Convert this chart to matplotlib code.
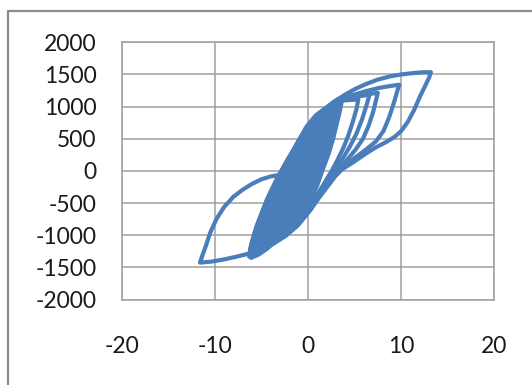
import matplotlib
matplotlib.use("Agg")
import matplotlib.pyplot as plt
from matplotlib.lines import Line2D

# densely overlapping small cycles, drawn as a filled band
core_disp = [-6.1, -5.3, -4.4, -3.6, -2.6, -1.6, -0.6, 0.3, 1.0, 1.6, 2.2, 2.7, 3.1, 3.4, 3.6, 3.4, 2.8,
             2.2, 1.2, 0.0, -1.0, -2.1, -3.3, -4.4, -5.5, -6.2, -6.3]
core_force = [-1350, -1300, -1210, -1110, -990, -850, -660, -450, -220, 30, 260, 500, 740, 920, 1060, 1130, 1080,
              1010, 870, 690, 470, 200, -110, -440, -850, -1200, -1330]

# largest cycle (+13 / -11.6)
big_disp = [-3.0, -2.2, -1.2, -0.2, 0.8, 1.8, 2.8, 3.8, 5.0, 6.2, 7.5, 8.8, 10.0, 11.2, 12.4, 13.2,
            13.0, 12.6, 12.0, 11.4, 10.7, 10.0, 9.3, 8.4, 7.2, 6.0, 4.8, 3.6, 2.6, 1.6, 0.6, -0.4,
            -1.4, -2.6, -3.8, -5.0, -6.2, -7.6, -9.0, -10.4, -11.6,
            -11.4, -11.0, -10.5, -9.8, -9.0, -8.0, -7.0, -6.0, -5.0, -4.0, -3.0]
big_force = [-60, 120, 420, 680, 860, 970, 1070, 1170, 1270, 1350, 1420, 1470, 1500, 1520, 1535, 1535,
             1450, 1330, 1150, 950, 760, 620, 530, 450, 360, 250, 130, 20, -120, -290, -480, -700,
             -880, -1020, -1130, -1210, -1280, -1330, -1375, -1410, -1425,
             -1340, -1180, -960, -740, -560, -400, -290, -200, -130, -85, -60]

# cycle peaking near +10
c10_disp = [3.0, 3.8, 4.8, 6.2, 7.6, 8.8, 9.8, 9.6, 9.2, 8.7, 8.1, 7.3, 6.2, 5.0, 3.9, 3.0, 2.0,
            0.9, -0.2, -1.2, -2.4, -3.6, -4.8, -6.0, -6.1, -5.6, -4.8, -4.0, -3.1, -2.2, -1.2,
            -0.2, 0.9, 2.0, 3.0]
c10_force = [1080, 1130, 1180, 1240, 1290, 1320, 1340, 1250, 1050, 830, 620, 460, 330, 200, 70, -70, -260,
             -470, -680, -860, -1010, -1120, -1210, -1290, -1150, -900, -600, -330, -60, 160, 400,
             620, 820, 950, 1080]

# cycle peaking near +7.5
c8_disp = [3.0, 3.8, 4.8, 6.0, 7.5, 7.3, 7.0, 6.5, 5.9, 5.1, 4.3, 3.4, 2.5, 1.4, 0.3, -1.0, -2.4, -4.0, -5.6, -6.0]
c8_force = [1080, 1110, 1150, 1185, 1215, 1100, 920, 700, 500, 330, 190, 40, -140, -360, -600, -830, -1000, -1140, -1260, -1300]

# cycle peaking near +6.6
c7_disp = [3.0, 4.0, 5.2, 6.6, 6.3, 5.8, 5.2, 4.5, 3.8, 3.0, 2.0, 1.0, -0.4, -1.8, -3.4, -5.0]
c7_force = [1080, 1120, 1155, 1185, 1030, 800, 580, 380, 210, 40, -180, -410, -680, -900, -1070, -1200]

# cycle peaking near +5.4
c5_disp = [3.0, 3.8, 4.6, 5.4, 5.2, 4.8, 4.3, 3.8, 3.2, 2.5, 1.5, 0.4, -1.0]
c5_force = [1080, 1095, 1105, 1110, 960, 760, 540, 360, 180, -10, -250, -500, -760]

x_ticks = [-20, -10, 0, 10, 20]
y_ticks = [-2000, -1500, -1000, -500, 0, 500, 1000, 1500, 2000]

blue = "#4a7ebb"
grey = "#a0a0a0"

plt.rcParams["font.family"] = ["Lato", "DejaVu Sans"]
plt.rcParams["axes.unicode_minus"] = False

W, H = 532, 385
fig = plt.figure(figsize=(W / 100, H / 100), dpi=100)
ax = fig.add_axes([121.7 / W, 1 - 299.6 / H, 372.6 / W, 257.3 / H])

ax.fill(core_disp, core_force, color=blue, lw=3.0, zorder=3)
line_kw = dict(color=blue, lw=3.0, solid_joinstyle="round", solid_capstyle="round", zorder=4)
for xs, ys in [(big_disp, big_force), (c10_disp, c10_force), (c8_disp, c8_force),
               (c7_disp, c7_force), (c5_disp, c5_force)]:
    ax.plot(xs, ys, **line_kw)

ax.set_xlim(-20, 20)
ax.set_ylim(-2000, 2000)
ax.set_xticks(x_ticks)
ax.set_yticks(y_ticks)
ax.grid(True, color=grey, lw=1.1, zorder=0)
ax.set_axisbelow(True)
for s in ax.spines.values():
    s.set_color(grey)
    s.set_linewidth(1.1)
ax.tick_params(axis="both", length=0, labelsize=16.5, labelcolor="#1a1a1a")
ax.tick_params(axis="x", pad=26)
ax.tick_params(axis="y", pad=18)

# chart area border (runs off the right and bottom edges)
frame = Line2D([7.5 / W, 7.5 / W, 1.0], [0.0, 1 - 11 / H, 1 - 11 / H],
               transform=fig.transFigure, color="#8c8c8c", lw=1.6)
fig.add_artist(frame)

fig.savefig("out.png", dpi=100)
